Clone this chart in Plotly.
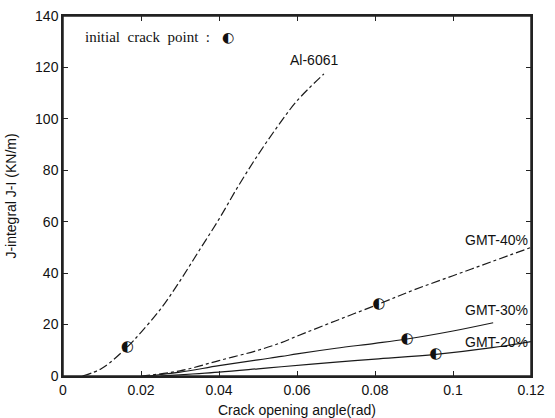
import plotly.graph_objects as go

al_x = [0.005, 0.010, 0.0165, 0.020, 0.025, 0.030, 0.035, 0.040, 0.045, 0.050, 0.055, 0.060, 0.0669]
al_y = [0.0, 3.0, 11.3, 17.0, 26.0, 37.0, 49.0, 61.0, 74.0, 86.0, 97.0, 107.0, 117.5]

g40_x = [0.020, 0.030, 0.040, 0.050, 0.056, 0.060, 0.070, 0.081, 0.090, 0.100, 0.110, 0.120]
g40_y = [0.0, 2.0, 6.0, 10.0, 13.0, 15.5, 21.5, 28.0, 33.5, 39.0, 44.5, 50.0]

g30_x = [0.022, 0.030, 0.040, 0.050, 0.056, 0.060, 0.070, 0.080, 0.0882, 0.100, 0.1103]
g30_y = [0.0, 1.5, 4.0, 6.3, 7.6, 8.6, 10.8, 12.7, 14.4, 17.5, 20.7]

g20_x = [0.025, 0.040, 0.050, 0.056, 0.070, 0.080, 0.0956, 0.110, 0.120]
g20_y = [0.0, 1.5, 2.8, 3.6, 5.4, 6.6, 8.4, 11.0, 13.4]

crack_x = [0.0165, 0.081, 0.0882, 0.0956]
crack_y = [11.3, 28.0, 14.4, 8.4]

x_ticks = [0, 0.02, 0.04, 0.06, 0.08, 0.1, 0.12]
x_labels = ["0", "0.02", "0.04", "0.06", "0.08", "0.1", "0.12"]
y_ticks = [0, 20, 40, 60, 80, 100, 120, 140]

fig = go.Figure()
line_c = "#1a1a1a"
fig.add_trace(go.Scatter(x=al_x, y=al_y, mode="lines", line=dict(color=line_c, width=1.2, dash="dashdot"), line_shape="spline"))
fig.add_trace(go.Scatter(x=g40_x, y=g40_y, mode="lines", line=dict(color=line_c, width=1.2, dash="dashdot"), line_shape="spline"))
fig.add_trace(go.Scatter(x=g30_x, y=g30_y, mode="lines", line=dict(color=line_c, width=1.2), line_shape="spline"))
fig.add_trace(go.Scatter(x=g20_x, y=g20_y, mode="lines", line=dict(color=line_c, width=1.2), line_shape="spline"))
fig.add_trace(go.Scatter(x=crack_x, y=crack_y, mode="text", text=["◐"] * len(crack_x),
                         textfont=dict(family="DejaVu Sans", size=15, color="#111")))

font = dict(family="Liberation Sans, Arial", size=14, color="#111")
fig.add_annotation(x=0.0644, y=123, text="Al-6061", showarrow=False, font=font)
fig.add_annotation(x=0.1198, y=53, text="GMT-40%", showarrow=False, xanchor="right", font=font)
fig.add_annotation(x=0.1198, y=25.7, text="GMT-30%", showarrow=False, xanchor="right", font=font)
fig.add_annotation(x=0.1198, y=13.2, text="GMT-20%", showarrow=False, xanchor="right", font=font)
fig.add_annotation(x=0.0051, y=131.8, text="initial  crack  point  :", showarrow=False, xanchor="left",
                   font=dict(family="Liberation Serif, Times New Roman", size=15, color="#111"))
fig.add_annotation(x=0.0422, y=131.8, text="◐", showarrow=False, xanchor="center",
                   font=dict(family="DejaVu Sans", size=14, color="#111"))

axis_common = dict(showgrid=False, zeroline=False, showline=True, linecolor="#222", linewidth=1.5,
                   mirror="allticks", ticks="inside", ticklen=5, tickwidth=1.2, tickcolor="#222", automargin=False,
                   tickfont=dict(family="Liberation Sans, Arial", size=14, color="#111"))
fig.update_xaxes(range=[0, 0.12], tickvals=x_ticks, ticktext=x_labels,
                 title=dict(text="Crack opening angle(rad)", font=dict(family="Liberation Sans, Arial", size=14, color="#111")),
                 **axis_common)
fig.update_yaxes(range=[0, 140], tickvals=y_ticks,
                 title=dict(text="J-integral J-I (KN/m)", font=dict(family="Liberation Sans, Arial", size=14, color="#111")),
                 **axis_common)
fig.add_shape(type="rect", xref="paper", yref="paper", x0=0, x1=1, y0=0, y1=1,
              line=dict(color="#222", width=1.5), fillcolor="rgba(0,0,0,0)", layer="above")
fig.update_layout(width=555, height=418, showlegend=False, plot_bgcolor="white", paper_bgcolor="white",
                  margin=dict(l=63, r=24, t=16, b=42))
fig.write_html("out.html", config={"displayModeBar": False},
               post_script="document.body.style.margin='0';document.body.style.overflow='hidden';")
